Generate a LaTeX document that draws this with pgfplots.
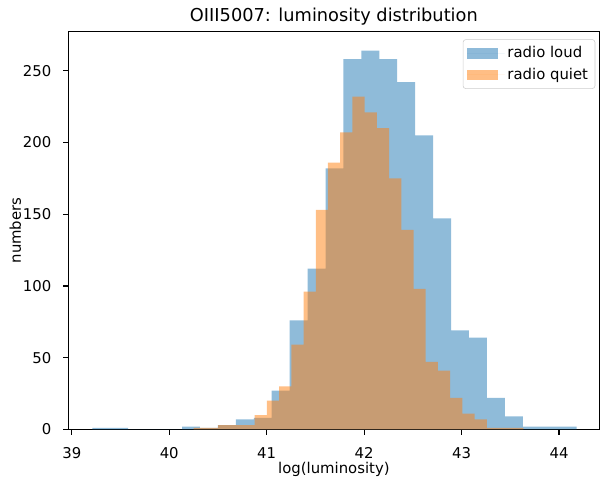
\documentclass[border=0pt]{standalone}
\usepackage{fontspec}
\setmainfont{DejaVu Sans}
\usepackage{pgfplots}
\pgfplotsset{compat=1.18}
\usetikzlibrary{calc}
\definecolor{mplblue}{HTML}{1F77B4}
\definecolor{mplorange}{HTML}{FF7F0E}
\pgfplotsset{hist legend/.style={legend image code/.code={%
  \fill[##1, sharp corners] (0pt,-3.9pt) rectangle (22pt,3.9pt);
  \path (0pt,0pt) -- (27pt,0pt);}}}

\begin{document}
\begin{tikzpicture}
\begin{axis}[
  scale only axis,
  width=382.3pt, height=286.3pt,
  xmin=38.965, xmax=44.415,
  ymin=0, ymax=277.2,
  xtick={39,40,41,42,43,44},
  ytick={0,50,100,150,200,250},
  tick pos=left,
  tick align=outside,
  major tick length=3.7pt,
  tick style={black, line width=0.85pt},
  axis line style={black, line width=0.85pt},
  /pgf/number format/assume math mode=true,
  ticklabel style={font=\fontsize{10.7}{12.8}\selectfont, inner sep=0pt},
  xticklabel style={anchor=north, yshift=-8.9pt},
  yticklabel style={anchor=east, xshift=-8.4pt},
  title={OIII5007: luminosity distribution},
  every axis title/.style={font=\fontsize{12.8}{15.4}\selectfont, at={(axis description cs:0.5,1.0255)}, anchor=base, inner sep=0pt},
  xlabel={log(luminosity)},
  every axis x label/.style={font=\fontsize{10.7}{12.8}\selectfont, at={(axis description cs:0.5,-0.1105)}, anchor=base, inner sep=0pt},
  ylabel={numbers},
  every axis y label/.style={font=\fontsize{10.7}{12.8}\selectfont, at={(axis description cs:-0.0892,0.5)}, rotate=90, anchor=base, inner sep=0pt},
  legend cell align=left,
  legend style={at={(axis description cs:1,1)}, anchor=north east, xshift=-3pt, yshift=-5.5pt,
    draw=black!20, rounded corners=2pt, fill=white, fill opacity=0.8, text opacity=1,
    font=\fontsize{10.7}{12.8}\selectfont, inner xsep=3pt, inner ysep=3pt, row sep=2pt},
]
% radio loud: left bin edges, counts (last row closes the final bin)
\addplot[ybar interval, draw=none, fill=mplblue, fill opacity=0.5, hist legend]
  coordinates {
  (39.2116,1) (39.3956,1) (39.5796,0) (39.7637,0) (39.9477,0)
  (40.1317,2) (40.3157,1) (40.4997,3) (40.6838,7) (40.8678,8)
  (41.0518,27) (41.2358,76) (41.4198,112) (41.6039,182) (41.7879,258)
  (41.9719,264) (42.1559,258) (42.3399,242) (42.5240,205) (42.7080,147)
  (42.8920,69) (43.0760,64) (43.2600,22) (43.4441,9) (43.6281,2)
  (43.8121,2) (43.9961,2) (44.1801,0)
  };
\addlegendentry{radio loud}
% radio quiet
\addplot[ybar interval, draw=none, fill=mplorange, fill opacity=0.5, hist legend]
  coordinates {
  (40.2500,1) (40.3754,1) (40.5008,3) (40.6262,3) (40.7516,3)
  (40.8770,10) (41.0023,20) (41.1277,30) (41.2531,59) (41.3785,96)
  (41.5039,153) (41.6293,186) (41.7547,207) (41.8801,232) (42.0055,221)
  (42.1309,210) (42.2562,175) (42.3816,139) (42.5070,98) (42.6324,47)
  (42.7578,41) (42.8832,22) (43.0086,11) (43.1340,7) (43.2594,1)
  (43.3848,1) (43.5101,1) (43.6355,0)
  };
\addlegendentry{radio quiet}
\end{axis}
\pgfresetboundingbox
\path[use as bounding box] ($(current axis.south west)+(-49.2pt,-37.2pt)$) rectangle ($(current axis.north east)+(0.4pt,22.8pt)$);
\end{tikzpicture}
\end{document}
